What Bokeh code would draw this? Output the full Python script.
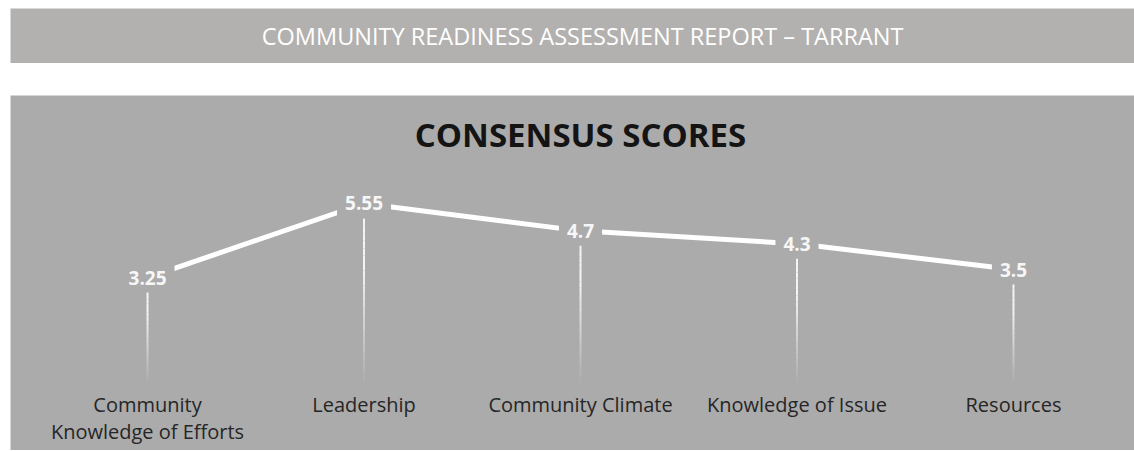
from bokeh.plotting import figure
from bokeh.models import Range1d, Label, Spacer
from bokeh.layouts import column, row
from bokeh.core.properties import value
from bokeh.embed import file_html
from bokeh.resources import INLINE

# ---- data ----
categories = ["Community\nKnowledge of Efforts", "Leadership", "Community Climate",
              "Knowledge of Issue", "Resources"]
scores = [3.25, 5.55, 4.7, 4.3, 3.5]
score_labels = ["3.25", "5.55", "4.7", "4.3", "3.5"]
banner_text = "COMMUNITY READINESS ASSESSMENT REPORT \u2013 TARRANT"
chart_title = "CONSENSUS SCORES"

PANEL = "#ababab"
BANNER = "#b3b1af"

xs = list(range(len(categories)))

# ---- banner ----
banner = figure(width=1124, height=55, x_range=Range1d(0, 1), y_range=Range1d(0, 1),
                output_backend="svg", toolbar_location=None, min_border=0,
                x_axis_location=None, y_axis_location=None)
banner.grid.visible = False
banner.background_fill_color = BANNER
banner.border_fill_color = BANNER
banner.outline_line_color = None
banner.add_layout(Label(x=0.509, y=0.5, text=banner_text, text_align="center",
                        text_baseline="middle", text_color="#ffffff",
                        text_font="Open Sans", text_font_size="23.5px"))

# ---- chart ----
p = figure(width=1124, height=355, x_range=Range1d(-0.633, 4.559),
           y_range=Range1d(-2.121, 8.904), output_backend="svg",
           toolbar_location=None, min_border=0,
           x_axis_location=None, y_axis_location=None)
p.grid.visible = False
p.background_fill_color = PANEL
p.border_fill_color = PANEL
p.outline_line_color = None

# drop lines with fading gradient toward the bottom
N = 24
sx, sy0, sy1, sa = [], [], [], []
for x, v in zip(xs, scores):
    for k in range(N):
        sx.append(x)
        sy0.append(v * k / N)
        sy1.append(v * (k + 1) / N)
        t = (k + 0.5) / N
        sa.append(min(1.0, 0.03 + 1.5 * t))
p.segment(x0=sx, y0=sy0, x1=sx, y1=sy1, line_color="#f4f4f4", line_width=2, line_alpha=sa)

# main line
p.line(xs, scores, line_color="#ffffff", line_width=5)

# value labels (background covers the line near the point)
for x, v, s in zip(xs, scores, score_labels):
    p.add_layout(Label(x=x, y=v, text=s, text_align="center", text_baseline="middle",
                       text_color="#f7f7f7", text_font="Open Sans", text_font_style="bold",
                       text_font_size="19px", background_fill_color=PANEL, padding=8))

# category labels
p.text(x=xs, y=[0] * len(xs), text=categories, text_align="center", text_baseline="top",
       y_offset=9, text_font=value("Open Sans"), text_font_size="20px",
       text_color="#262626", text_line_height=0.98)

# chart title
p.add_layout(Label(x=(len(xs) - 1) / 2, y=7.68, text=chart_title, text_align="center",
                   text_baseline="middle", text_color="#141414", text_font="Open Sans",
                   text_font_style="bold", text_font_size="33px"))

layout = column(Spacer(width=1134, height=8),
                row(Spacer(width=10, height=55), banner),
                Spacer(width=1134, height=32),
                row(Spacer(width=10, height=355), p))

open("out.html", "w").write(file_html(layout, INLINE))
